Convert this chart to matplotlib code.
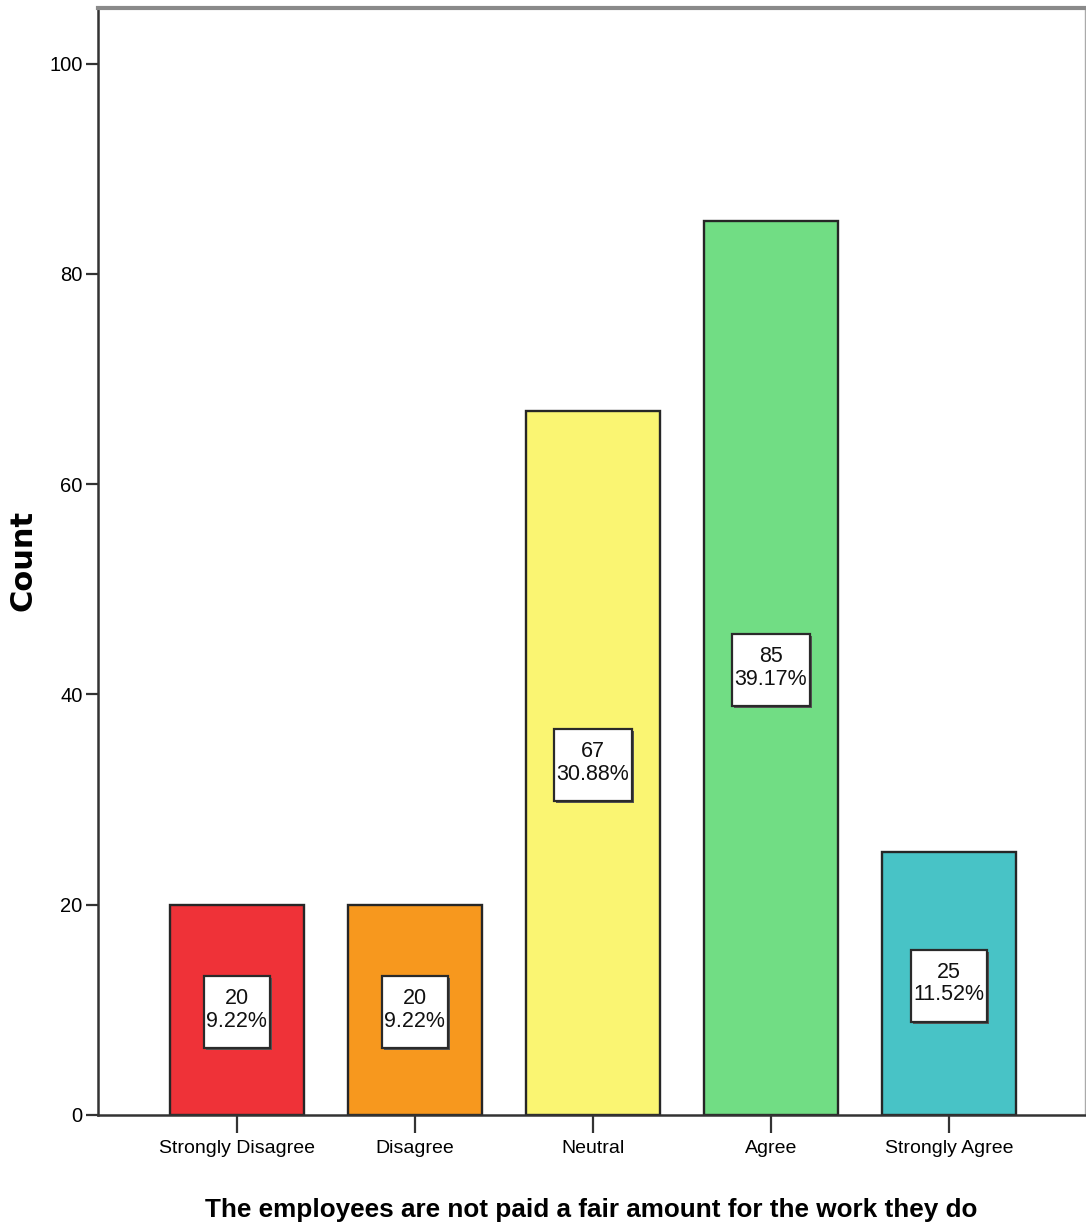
import matplotlib
matplotlib.use("Agg")
import matplotlib.pyplot as plt
from matplotlib.patches import Rectangle

categories = ["Strongly Disagree", "Disagree", "Neutral", "Agree", "Strongly Agree"]
counts = [20, 20, 67, 85, 25]
percents = ["9.22%", "9.22%", "30.88%", "39.17%", "11.52%"]
colors = ["#EF3238", "#F7981E", "#FAF572", "#71DD84", "#48C3C6"]
y_ticks = [0, 20, 40, 60, 80, 100]

plt.rcParams["font.family"] = ["Liberation Sans", "DejaVu Sans"]

W, H = 1086, 1231
fig = plt.figure(figsize=(W / 100, H / 100), dpi=100)
ax = fig.add_axes([98 / W, 116 / H, 987 / W, 1107 / H])

x = list(range(len(categories)))
ax.bar(x, counts, width=0.753, color=colors, edgecolor="#262626", linewidth=1.7, zorder=2)

labels = []
for xi, c, p in zip(x, counts, percents):
    t = ax.text(xi, c / 2, f"{c}\n{p}", ha="center", va="center", fontsize=15.5,
                linespacing=1.1, color="#111111", zorder=5)
    labels.append(t)

ax.set_xlim(-0.78, 4.765)
ax.set_ylim(0, 105.3)
ax.set_yticks(y_ticks)
ax.set_xticks(x)
ax.set_xticklabels(categories)
ax.tick_params(axis="y", labelsize=14.5, length=9, width=1.6, color="#333333", pad=2)
ax.tick_params(axis="x", labelsize=14, length=13, width=1.6, color="#333333", pad=5)

for side in ["left", "bottom"]:
    ax.spines[side].set_linewidth(1.8)
    ax.spines[side].set_color("#333333")
ax.spines["top"].set_linewidth(3)
ax.spines["top"].set_color("#8a8a8a")
ax.spines["right"].set_linewidth(1)
ax.spines["right"].set_color("#aaaaaa")

fig.text(23 / W, 1 - 560 / H, "Count", rotation=90, ha="center", va="center",
         fontsize=22, fontweight="bold", family="DejaVu Sans")
fig.text((98 + 987 / 2) / W, 1 - 1210 / H,
         "The employees are not paid a fair amount for the work they do",
         ha="center", va="center", fontsize=18.8, fontweight="bold")

# white label boxes sized around each label's rendered text
fig.canvas.draw()
renderer = fig.canvas.get_renderer()
to_data = ax.transData.inverted()
for t in labels:
    bb = t.get_window_extent(renderer)
    cx = (bb.x0 + bb.x1) / 2
    cy = (bb.y0 + bb.y1) / 2 - 2
    bw = bb.width + 5
    bh = 72
    for dx, dy, face, edge, z in [(2, -2, "#555555", "none", 3),
                                  (0, 0, "white", "#2a2a2a", 4)]:
        (x0, y0), (x1, y1) = to_data.transform([(cx - bw / 2 + dx, cy - bh / 2 + dy),
                                                (cx + bw / 2 + dx, cy + bh / 2 + dy)])
        ax.add_patch(Rectangle((x0, y0), x1 - x0, y1 - y0, facecolor=face,
                               edgecolor=edge, linewidth=1.6, zorder=z))

fig.savefig("out.png", dpi=100)
